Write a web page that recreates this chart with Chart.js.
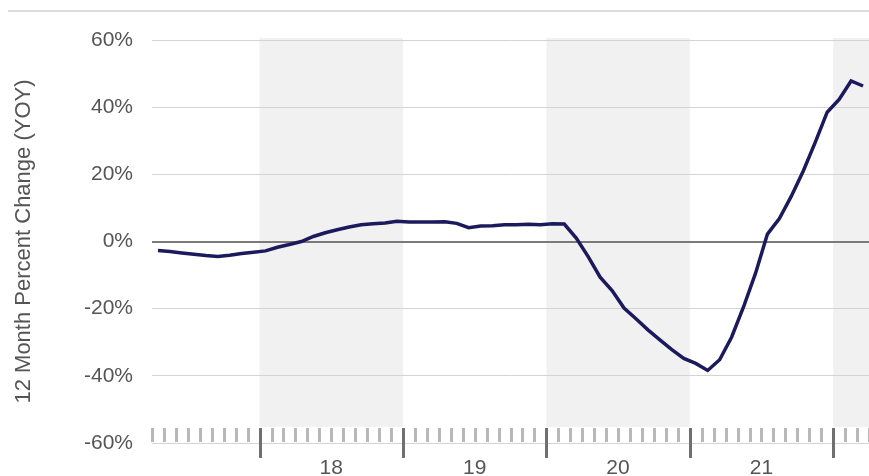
<!DOCTYPE html>
<html>
<head>
<meta charset="utf-8">
<script src="https://cdn.jsdelivr.net/npm/chart.js@4/dist/chart.umd.min.js"></script>
<style>
    html, body { margin: 0; padding: 0; background: #ffffff; }
    #wrap { width: 869px; height: 476px; position: relative; }
</style>
</head>
<body>
<div id="wrap"><canvas id="yoyChart"></canvas></div>
<script>
// Months shown, April 2017 to March 2022
const months = [
    '2017-04', '2017-05', '2017-06', '2017-07', '2017-08', '2017-09', '2017-10', '2017-11', '2017-12',
    '2018-01', '2018-02', '2018-03', '2018-04', '2018-05', '2018-06', '2018-07', '2018-08', '2018-09', '2018-10', '2018-11', '2018-12',
    '2019-01', '2019-02', '2019-03', '2019-04', '2019-05', '2019-06', '2019-07', '2019-08', '2019-09', '2019-10', '2019-11', '2019-12',
    '2020-01', '2020-02', '2020-03', '2020-04', '2020-05', '2020-06', '2020-07', '2020-08', '2020-09', '2020-10', '2020-11', '2020-12',
    '2021-01', '2021-02', '2021-03', '2021-04', '2021-05', '2021-06', '2021-07', '2021-08', '2021-09', '2021-10', '2021-11', '2021-12',
    '2022-01', '2022-02', '2022-03'
];

// 12 month percent change (YOY)
const yoyValues = [
    -2.7, -3.0, -3.4, -3.8, -4.2, -4.5, -4.1, -3.6, -3.2,
    -2.8, -1.7, -0.9, 0.0, 1.5, 2.6, 3.5, 4.3, 5.0, 5.3, 5.5, 6.0,
    5.8, 5.8, 5.8, 5.9, 5.4, 4.1, 4.6, 4.7, 5.0, 5.0, 5.1, 5.0,
    5.3, 5.2, 1.0, -4.5, -10.6, -14.6, -19.8, -23.0, -26.3, -29.3, -32.2, -34.8,
    -36.3, -38.4, -35.2, -28.5, -19.5, -9.5, 2.2, 6.8, 13.5, 21.0, 29.5, 38.5,
    42.3, 47.8, 46.3
];

// Axis labels
const yearLabels = ['18', '19', '20', '21'];
const shadedYears = ['2018', '2020', '2022'];
const yTicks = [-60, -40, -20, 0, 20, 40, 60];

// month index helpers (0 = start of first month)
function monthIndex(ym) {
    const start = months[0].split('-').map(Number);
    const parts = ym.split('-').map(Number);
    return (parts[0] - start[0]) * 12 + (parts[1] - start[1]);
}

const points = months.map((m, i) => ({ x: monthIndex(m) + 0.5, y: yoyValues[i] }));
const axisMax = monthIndex(months[months.length - 1]) + 1;

// label positions: middle of each year
const labelPositions = {};
yearLabels.forEach(label => {
    labelPositions[monthIndex('20' + label + '-07')] = label;
});

// Shaded year bands behind the grid
const bandPlugin = {
    id: 'bands',
    beforeDraw(chart) {
        const ctx = chart.ctx;
        const xs = chart.scales.x;
        const area = chart.chartArea;
        ctx.save();
        ctx.fillStyle = '#f1f1f1';
        shadedYears.forEach(year => {
            const x1 = xs.getPixelForValue(Math.max(0, monthIndex(year + '-01')));
            const x2 = xs.getPixelForValue(Math.min(axisMax, monthIndex(year + '-01') + 12));
            ctx.fillRect(x1, area.top - 2, x2 - x1, area.bottom - area.top + 2);
        });
        // top rule
        ctx.strokeStyle = '#dcdcdc';
        ctx.lineWidth = 2;
        ctx.beginPath();
        ctx.moveTo(8, 11);
        ctx.lineTo(chart.width, 11);
        ctx.stroke();
        ctx.restore();
    }
};

// Monthly and yearly tick marks along the bottom
const tickPlugin = {
    id: 'monthTicks',
    afterDatasetsDraw(chart) {
        const ctx = chart.ctx;
        const xs = chart.scales.x;
        const bottom = chart.chartArea.bottom;
        ctx.save();
        ctx.fillStyle = '#ffffff';
        ctx.fillRect(chart.chartArea.left, bottom - 16, chart.chartArea.right - chart.chartArea.left, 16);
        ctx.strokeStyle = '#d6d6d6';
        ctx.lineWidth = 1;
        ctx.beginPath();
        ctx.moveTo(chart.chartArea.left, bottom + 0.5);
        ctx.lineTo(chart.chartArea.right, bottom + 0.5);
        ctx.stroke();
        for (let m = 0; m <= axisMax; m++) {
            const x = Math.round(xs.getPixelForValue(m));
            const isYear = (m + monthIndex(months[0]) - monthIndex(months[0].slice(0, 4) + '-01')) % 12 === 0;
            if (isYear) {
                ctx.fillStyle = '#707070';
                ctx.fillRect(x - 1, bottom - 15, 3, 30);
            } else {
                ctx.fillStyle = '#b8b8b8';
                ctx.fillRect(x - 1, bottom - 15, 3, 14);
            }
        }
        ctx.restore();
    }
};

function initializeChart() {
    const ctx = document.getElementById('yoyChart').getContext('2d');
    new Chart(ctx, {
        type: 'line',
        data: {
            datasets: [{
                label: '12 Month Percent Change (YOY)',
                data: points,
                borderColor: '#1b1a5c',
                borderWidth: 3.5,
                pointRadius: 0,
                tension: 0,
                fill: false
            }]
        },
        options: {
            responsive: true,
            maintainAspectRatio: false,
            animation: false,
            layout: { padding: { top: 40, left: 0, right: 0, bottom: 0 } },
            plugins: {
                legend: { display: false },
                tooltip: { enabled: false }
            },
            scales: {
                x: {
                    type: 'linear',
                    min: 0,
                    max: axisMax,
                    afterBuildTicks(scale) {
                        scale.ticks = Object.keys(labelPositions).map(v => ({ value: Number(v) }));
                    },
                    afterFit(scale) {
                        scale.height = 33;
                    },
                    ticks: {
                        autoSkip: false,
                        maxRotation: 0,
                        padding: 5,
                        color: '#555555',
                        font: { family: 'Liberation Sans, Arial, sans-serif', size: 21 },
                        callback: value => labelPositions[value] || ''
                    },
                    grid: { display: false },
                    border: { display: false }
                },
                y: {
                    min: -60,
                    max: 60,
                    afterBuildTicks(scale) {
                        scale.ticks = yTicks.map(v => ({ value: v }));
                    },
                    afterFit(scale) {
                        scale.width = 152;
                    },
                    ticks: {
                        padding: 19,
                        color: '#555555',
                        font: { family: 'Liberation Sans, Arial, sans-serif', size: 21 },
                        callback: value => value + '%'
                    },
                    grid: {
                        drawTicks: false,
                        color: ctx => ctx.tick && ctx.tick.value === 0 ? '#7a7a7a' : '#d4d4d4',
                        lineWidth: ctx => ctx.tick && ctx.tick.value === 0 ? 2 : 1
                    },
                    border: { display: false },
                    title: {
                        display: true,
                        text: '12 Month Percent Change (YOY)',
                        color: '#555555',
                        padding: { top: 11, bottom: 0 },
                        font: { family: 'Liberation Sans, Arial, sans-serif', size: 22 }
                    }
                }
            }
        },
        plugins: [bandPlugin, tickPlugin]
    });
}

document.addEventListener('DOMContentLoaded', initializeChart);
</script>
</body>
</html>
